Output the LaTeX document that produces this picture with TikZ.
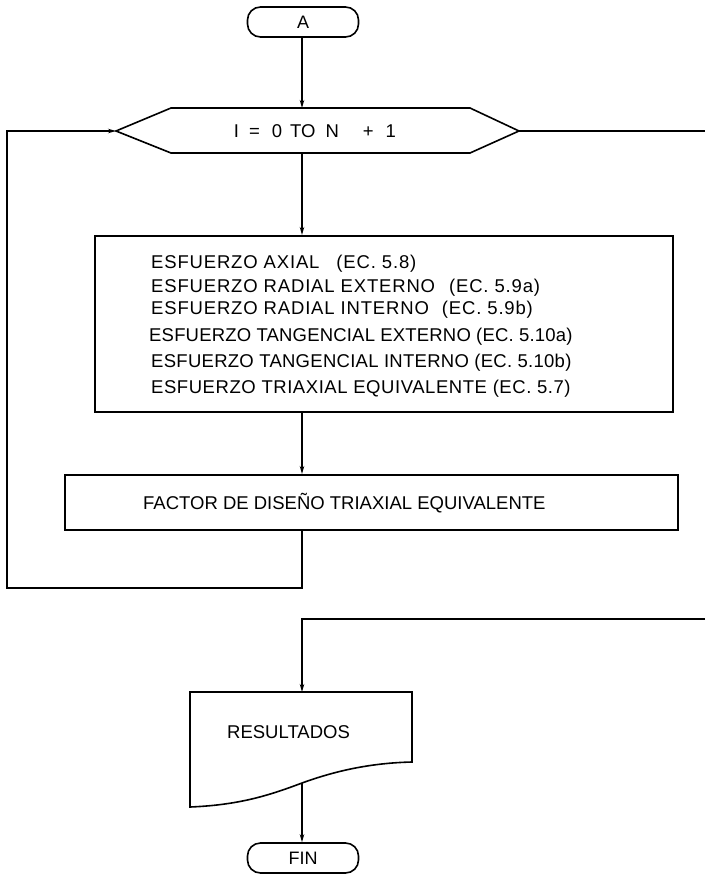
\documentclass[tikz,border=0pt]{standalone}
\usepackage{fontspec}
\setmainfont{Liberation Sans}
\usetikzlibrary{arrows.meta}
\begin{document}
\begin{tikzpicture}[x=1pt,y=-1pt,
  line/.style={line width=1.6pt},
  arr/.style={line width=1.6pt,-{Stealth[length=8pt,width=4.5pt]}},
  term/.style={draw,line width=1.6pt,rounded corners=13pt,minimum width=111pt,minimum height=30pt,inner sep=0pt,font=\fontsize{18}{20}\selectfont},
  boxst/.style={draw,line width=1.6pt,inner sep=0pt},
  lbl/.style={inner sep=0pt,anchor=base west,font=\fontsize{18.5}{20}\selectfont\addfontfeatures{LetterSpace=4.5}}]
\useasboundingbox (0,0) rectangle (705,874);

% terminal A
\node[term] (A) at (303,22) {A};

% hexagon (loop)
\coordinate (hexL) at (116,131);
\coordinate (hexTL) at (171,108);
\coordinate (hexT) at (302,108);
\coordinate (hexTR) at (470,108);
\coordinate (hexR) at (519,131);
\coordinate (hexBR) at (470,153);
\coordinate (hexB) at (302,153);
\coordinate (hexBL) at (171,153);
\draw[line,line join=miter] (hexL) -- (hexTL) -- (hexTR) -- (hexR) -- (hexBR) -- (hexBL) -- cycle;
\node[inner sep=0pt,anchor=base,font=\fontsize{18.5}{20}\selectfont] (hexlbl) at (315,138)
  {I\hspace{10pt}=\hspace{12pt}0\hspace{8pt}TO\hspace{10pt}N\hspace{24pt}+\hspace{12pt}1};

% main box
\node[boxst,minimum width=578pt,minimum height=176pt,anchor=north west] (main) at (94,235) {};
\node[lbl] (t1) at (151,269) {ESFUERZO AXIAL\hspace{17pt}(EC. 5.8)};
\node[lbl] (t2) at (151,292) {ESFUERZO RADIAL EXTERNO\hspace{14pt}(EC. 5.9a)};
\node[lbl] (t3) at (151,314) {ESFUERZO RADIAL INTERNO\hspace{13pt}(EC. 5.9b)};
\node[lbl,font=\fontsize{18.5}{20}\selectfont\addfontfeatures{LetterSpace=1.0}] (t4) at (149,341) {ESFUERZO TANGENCIAL EXTERNO (EC. 5.10a)};
\node[lbl,font=\fontsize{18.5}{20}\selectfont\addfontfeatures{LetterSpace=1.5}] (t5) at (151,367) {ESFUERZO TANGENCIAL INTERNO (EC. 5.10b)};
\node[lbl,font=\fontsize{18.5}{20}\selectfont\addfontfeatures{LetterSpace=3.0}] (t6) at (151,393) {ESFUERZO TRIAXIAL EQUIVALENTE (EC. 5.7)};

% factor box
\node[boxst,minimum width=613pt,minimum height=55pt,anchor=north west] (fac) at (64,474) {};
\node[inner sep=0pt,anchor=base west,font=\fontsize{18.5}{20}\selectfont] (facl) at (143,509) {FACTOR DE DISEÑO TRIAXIAL EQUIVALENTE};

% resultados (document)
\coordinate (resTL) at (190,692);
\coordinate (resT) at (302,692);
\coordinate (resTR) at (412,692);
\coordinate (resR) at (412,762);
\coordinate (resB) at (302,783);
\coordinate (resL) at (190,807);
\draw[line,line join=miter] (resL) -- (resTL) -- (resTR) -- (resR)
  .. controls (370,763) and (335,771) .. (resB)
  .. controls (270,795) and (240,805) .. (resL) -- cycle;
\node[inner sep=0pt,anchor=base west,font=\fontsize{18.5}{20}\selectfont] (resl) at (227,738) {RESULTADOS};

% terminal FIN
\node[term] (fin) at (303,858) {FIN};

% connectors
\coordinate (loopC) at (7,588);
\coordinate (edge1) at (705,131);
\coordinate (edge2) at (705,619);
\draw[arr] (A.south -| hexT) -- (hexT);
\draw[arr] (hexB) -- (main.north -| hexB);
\draw[arr] (main.south -| hexB) -- (fac.north -| hexB);
\draw[arr] (fac.south -| hexB) |- (loopC) -- (loopC |- hexL) -- (hexL);
\draw[line] (hexR) -- (edge1);
\draw[arr] (edge2) -| (resT);
\draw[arr] (resB) -- (fin.north -| resB);
\end{tikzpicture}
\end{document}
